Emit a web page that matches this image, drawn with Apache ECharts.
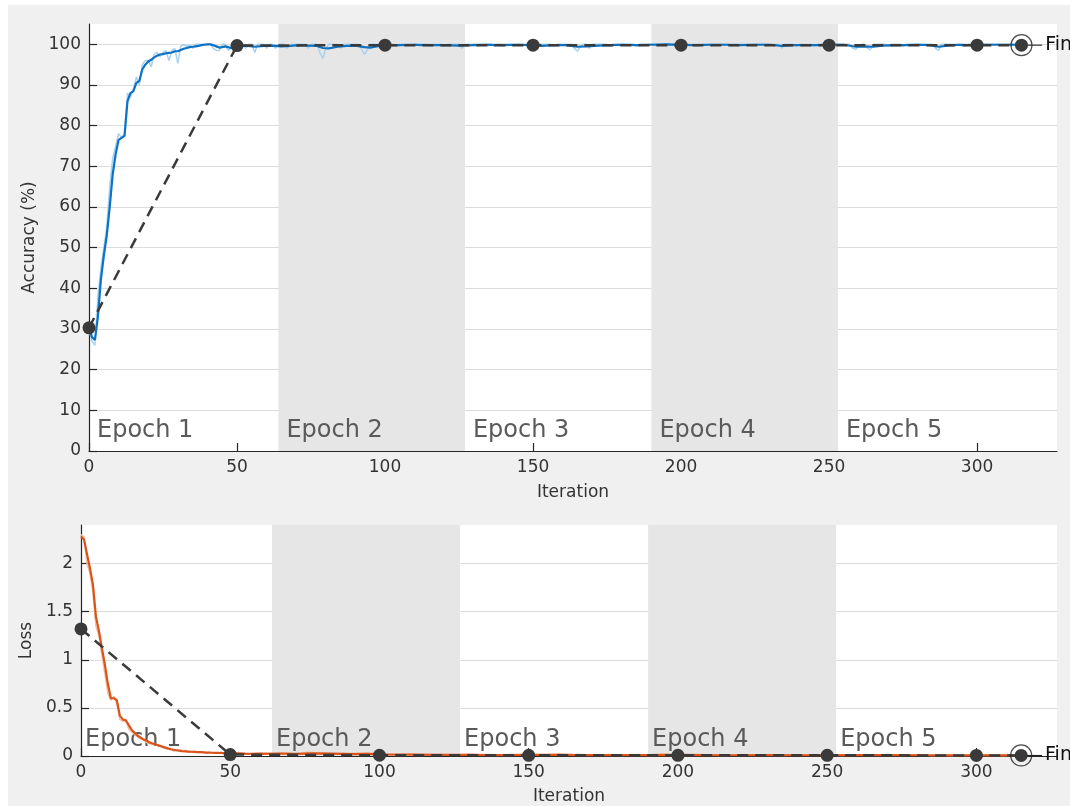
<!DOCTYPE html>
<html>
<head>
<meta charset="utf-8">
<script src="https://cdn.jsdelivr.net/npm/echarts@6/dist/echarts.min.js"></script>
<style>
html,body{margin:0;padding:0;background:#ffffff;}
#wrap{position:absolute;left:8px;top:5px;right:0;bottom:0;background:#f0f0f0;}
#chart{position:absolute;left:0;top:0;width:1070px;height:806px;}
</style>
</head>
<body>
<div id="wrap"></div>
<div id="chart"></div>
<script>
// ---------------- DATA ----------------
const xTicks = [0, 50, 100, 150, 200, 250, 300];
const accTicks = [0, 10, 20, 30, 40, 50, 60, 70, 80, 90, 100];
const lossTicks = [0, 0.5, 1, 1.5, 2];
const epochNames = ['Epoch 1', 'Epoch 2', 'Epoch 3', 'Epoch 4', 'Epoch 5'];
const epochStarts = [0, 64, 127, 190, 253];
const epochEnds = [64, 127, 190, 253, 327];

// training accuracy, raw (iterations 0..50)
const accRawEarly = [30, 27, 26, 38, 45, 50, 55, 65, 72, 75, 78, 77, 78, 88, 87, 89, 92, 90, 95, 96,
  96, 94.5, 97.5, 98, 97, 98, 98.5, 96, 98.5, 99, 95.3, 99.5, 100, 99.5, 100, 99, 100, 100, 100, 100,
  100, 100, 99, 98.5, 98.5, 100, 100, 98.5, 99, 100, 100];
// training accuracy, raw (iterations 51..315)
const accRawLate = [
  100,100,99,100,100,98,100,100,100,99,
  100,100,99,100,100,100,99,100,100,100,
  100,100,100,99,100,100,100,98,96.5,99,
  100,100,100,100,99,100,100,100,100,100,
  100,99,97.5,98.5,100,100,100,100,100,100,
  100,100,100,99.5,100,100,100,100,100,100,
  100,99.5,100,100,100,100,100,100,100,99.5,
  100,100,100,100,100,99,100,100,100,100,
  100,100,100,100,100,100,99.5,100,100,100,
  100,100,100,100,100,100,100,99.5,100,100,
  99,100,100,100,100,100,99.5,100,100,100,
  100,100,100,99,98.3,99.5,100,100,99,100,
  100,100,100,100,100,99.5,100,100,100,100,
  100,100,100,100,99.5,100,100,100,100,100,
  100,100,100,100,100,100,100,100,100,100,
  100,100,99.5,100,100,100,100,100,100,100,
  100,100,100,100,100,100,99.5,100,100,100,
  100,100,100,100,100,100,100,100,100,100,
  100,100,100,99,100,100,100,100,99.5,100,
  100,100,100,100,99.5,100,100,100,100,100,
  100,100,100,100,100,100,100,99,98.8,99.5,
  100,100,99,98.7,100,100,100,100,100,99.5,
  100,100,100,100,99.5,100,100,100,100,100,
  100,100,100,100,100,99,98.5,100,100,100,
  100,100,100,100,100,99.5,100,100,100,100,
  100,100,100,100,100,100,100,100,100,100,
  100,100,100,100,100];
// training accuracy, smoothed (iterations 0..50)
const accSmoothEarly = [30.5, 28, 27.3, 33, 42, 48, 53, 60, 68, 73, 76.5, 77, 77.5, 86, 88, 88.5, 90.5, 91, 93.8, 95,
  95.8, 96.2, 96.8, 97.2, 97.5, 97.6, 97.8, 97.9, 98.0, 98.3, 98.3, 98.6, 98.9, 99.1, 99.3, 99.4, 99.5, 99.6, 99.8, 99.9,
  100, 100, 99.8, 99.5, 99.2, 99.3, 99.5, 99.3, 99.1, 99.4, 99.6];
// training accuracy, smoothed ([iteration, value] after 50)
const accSmoothLate = [[53,99.7],[56,99.4],[59,99.6],[62,99.7],[65,99.5],[68,99.6],[71,99.8],[74,99.7],[77,99.6],[79,99.1],
  [81,99.0],[84,99.4],[87,99.6],[90,99.7],[93,99.3],[95,99.2],[98,99.6],[101,99.8],[105,99.8],[110,99.9],
  [115,99.8],[120,99.8],[125,99.7],[130,99.8],[135,99.9],[140,99.8],[145,99.9],[150,99.8],[153,99.6],[157,99.8],
  [161,99.8],[165,99.4],[168,99.5],[172,99.7],[176,99.8],[180,99.9],[185,99.8],[190,99.9],[195,100],[200,99.9],
  [205,99.8],[210,99.9],[215,99.9],[220,99.8],[225,99.9],[230,99.9],[234,99.6],[238,99.8],[242,99.8],[246,99.8],
  [250,99.9],[255,99.9],[259,99.4],[262,99.5],[265,99.4],[268,99.7],[272,99.8],[276,99.8],[280,99.9],[284,99.8],
  [287,99.4],[290,99.7],[294,99.9],[298,99.8],[302,99.9],[306,99.9],[310,99.9],[315,99.9]];

// training loss, raw (iterations 0..50)
const lossRawEarly = [2.3, 2.28, 2.0, 1.9, 1.7, 1.35, 1.25, 1.05, 0.85, 0.65, 0.58, 0.62, 0.55, 0.38, 0.36, 0.38, 0.28, 0.25, 0.22, 0.2,
  0.18, 0.17, 0.14, 0.13, 0.12, 0.12, 0.1, 0.1, 0.08, 0.07, 0.08, 0.05, 0.06, 0.05, 0.045, 0.06, 0.04, 0.04, 0.05, 0.035,
  0.04, 0.045, 0.03, 0.04, 0.03, 0.035, 0.03, 0.04, 0.025, 0.03, 0.02];
// training loss, raw ([iteration, value] after 50)
const lossRawLate = [[52,0.03],[56,0.02],[60,0.035],[64,0.02],[68,0.03],[72,0.02],[76,0.04],[80,0.03],[84,0.02],[88,0.03],
  [92,0.025],[96,0.03],[100,0.015],[105,0.012],[110,0.02],[115,0.01],[120,0.015],[125,0.01],[130,0.018],[135,0.01],
  [140,0.012],[145,0.008],[150,0.015],[155,0.01],[160,0.02],[165,0.012],[170,0.008],[175,0.012],[180,0.008],[185,0.015],
  [190,0.01],[195,0.02],[200,0.01],[205,0.008],[210,0.012],[215,0.006],[220,0.01],[225,0.008],[230,0.012],[235,0.006],
  [240,0.01],[245,0.008],[250,0.01],[255,0.006],[260,0.012],[265,0.008],[270,0.015],[275,0.006],[280,0.01],[285,0.006],
  [290,0.008],[295,0.006],[300,0.01],[305,0.006],[310,0.008],[315,0.006]];
// training loss, smoothed (iterations 0..50)
const lossSmoothEarly = [2.28, 2.25, 2.1, 1.95, 1.78, 1.45, 1.3, 1.12, 0.95, 0.75, 0.6, 0.6, 0.58, 0.42, 0.38, 0.37, 0.32, 0.27, 0.24, 0.21,
  0.19, 0.17, 0.16, 0.14, 0.13, 0.12, 0.11, 0.10, 0.09, 0.08, 0.07, 0.065, 0.06, 0.055, 0.05, 0.048, 0.046, 0.044, 0.042, 0.04,
  0.04, 0.038, 0.036, 0.035, 0.034, 0.033, 0.032, 0.031, 0.03, 0.03, 0.029];
// training loss, smoothed ([iteration, value] after 50)
const lossSmoothLate = [[55,0.025],[60,0.022],[66,0.026],[72,0.022],[78,0.028],[84,0.024],[90,0.02],[96,0.022],[102,0.016],[110,0.014],
  [120,0.012],[130,0.012],[140,0.01],[150,0.011],[160,0.012],[170,0.01],[180,0.009],[190,0.01],[200,0.012],[210,0.009],
  [220,0.008],[230,0.009],[240,0.008],[250,0.008],[260,0.009],[270,0.01],[280,0.008],[290,0.007],[300,0.008],[315,0.007]];

// validation
const valIters = [0, 50, 100, 150, 200, 250, 300, 315];
const valAcc = [30.3, 99.7, 99.8, 99.8, 99.8, 99.8, 99.8, 99.8];
const valLoss = [1.32, 0.015, 0.008, 0.007, 0.007, 0.007, 0.006, 0.006];
const finalLabel = 'Final';
const finalLeadEnd = 322;

// ---------------- BUILD ----------------
const FONT = 'DejaVu Sans';
const idx = (arr, start) => arr.map((v, i) => [start + i, v]);
const accRaw = idx(accRawEarly, 0).concat(idx(accRawLate, 51));
const accSmooth = idx(accSmoothEarly, 0).concat(accSmoothLate);
const lossRaw = idx(lossRawEarly, 0).concat(lossRawLate);
const lossSmooth = idx(lossSmoothEarly, 0).concat(lossSmoothLate);
const valAccPts = valIters.map((x, i) => [x, valAcc[i]]);
const valLossPts = valIters.map((x, i) => [x, valLoss[i]]);
const nLast = valIters.length - 1;

function epochAreas(labelDist) {
  return epochNames.map((n, i) => [
    { xAxis: epochStarts[i], name: n,
      itemStyle: { color: i % 2 === 1 ? '#e6e6e6' : 'rgba(255,255,255,0)' },
      label: { show: true, position: 'insideBottomLeft', distance: labelDist,
        formatter: n, fontFamily: FONT, fontSize: 24, color: '#5a5a5a' } },
    { xAxis: epochEnds[i] }
  ]);
}

function xAxisOpt(gi, gap) {
  return {
    gridIndex: gi, type: 'value', min: 0, max: 327, interval: 50,
    name: 'Iteration', nameLocation: 'middle', nameGap: gap,
    nameTextStyle: { fontFamily: FONT, fontSize: 17, color: '#333' },
    axisLine: { show: true, onZero: false, lineStyle: { color: '#262626', width: 1.2 } },
    axisTick: { show: true, inside: true, length: 8, customValues: xTicks, lineStyle: { color: '#262626', width: 1.2 } },
    axisLabel: { margin: 8, fontFamily: FONT, fontSize: 17, color: '#333', customValues: xTicks,
      formatter: v => String(v) },
    splitLine: { show: false }
  };
}
function yAxisOpt(gi, max, interval, ticks, name, gap) {
  return {
    gridIndex: gi, type: 'value', min: 0, max: max, interval: interval,
    name: name, nameLocation: 'middle', nameGap: gap,
    nameTextStyle: { fontFamily: FONT, fontSize: 17, color: '#333' },
    axisLine: { show: true, lineStyle: { color: '#262626', width: 1.2 } },
    axisTick: { show: true, inside: true, length: 8, customValues: ticks, lineStyle: { color: '#262626', width: 1.2 } },
    axisLabel: { margin: 8, fontFamily: FONT, fontSize: 17, color: '#333', customValues: ticks,
      formatter: v => String(v) },
    splitLine: { show: true, lineStyle: { color: '#dcdcdc', width: 1 } }
  };
}

function panelSeries(gi, raw, smooth, val, rawColor, smoothColor, labelDist) {
  const last = val[nLast];
  return [
    { type: 'line', xAxisIndex: gi, yAxisIndex: gi, data: raw, showSymbol: false, silent: true,
      lineStyle: { color: rawColor, width: 1.5 }, z: 2,
      markArea: { silent: true, data: epochAreas(labelDist) } },
    { type: 'line', xAxisIndex: gi, yAxisIndex: gi, data: smooth, showSymbol: false, silent: true,
      lineStyle: { color: smoothColor, width: 2.2 }, z: 3 },
    { type: 'line', xAxisIndex: gi, yAxisIndex: gi, data: [[last[0], last[1]], [finalLeadEnd, last[1]]],
      showSymbol: false, silent: true, lineStyle: { color: '#111', width: 1 }, z: 4,
      endLabel: { show: true, formatter: finalLabel, distance: 3, fontFamily: FONT, fontSize: 19, color: '#111' } },
    { type: 'line', xAxisIndex: gi, yAxisIndex: gi, data: val, silent: true,
      symbol: 'circle', symbolSize: 13, showSymbol: true,
      itemStyle: { color: '#3a3a3a', borderWidth: 0 },
      lineStyle: { color: '#3a3a3a', width: 2.5, type: [11, 7] }, z: 5 },
    { type: 'scatter', xAxisIndex: gi, yAxisIndex: gi, data: [last], silent: true,
      symbol: 'circle', symbolSize: 21,
      itemStyle: { color: 'rgba(255,255,255,0)', borderColor: '#222', borderWidth: 1.2 }, z: 6 }
  ];
}

const chart = echarts.init(document.getElementById('chart'), null, { renderer: 'canvas' });
chart.setOption({
  animation: false,
  backgroundColor: 'transparent',
  grid: [
    { left: 89, right: 13, top: 24, height: 427, show: true, backgroundColor: '#ffffff', borderWidth: 0 },
    { left: 81, right: 13, top: 525, height: 232, show: true, backgroundColor: '#ffffff', borderWidth: 0 }
  ],
  xAxis: [xAxisOpt(0, 33), xAxisOpt(1, 32)],
  yAxis: [
    yAxisOpt(0, 105, 10, accTicks, 'Accuracy (%)', 50),
    yAxisOpt(1, 2.4, 0.5, lossTicks, 'Loss', 42)
  ],
  series: [].concat(
    panelSeries(0, accRaw, accSmooth, valAccPts, '#a9d2f0', '#0b72c4', 8),
    panelSeries(1, lossRaw, lossSmooth, valLossPts, '#f5bfa3', '#d9531a', 4)
  )
});
</script>
</body>
</html>
